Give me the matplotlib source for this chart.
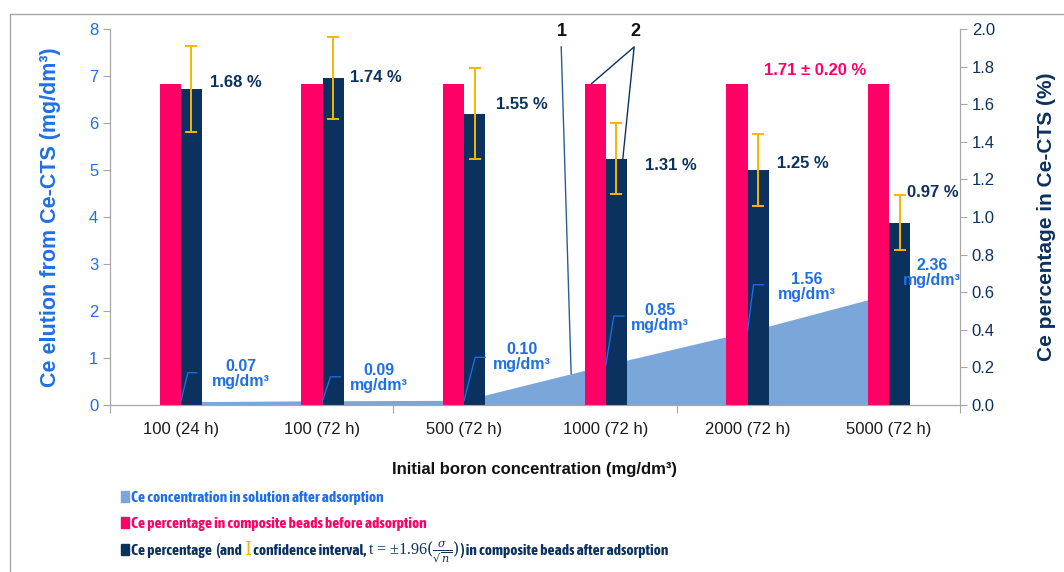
import matplotlib
matplotlib.use('Agg')
import matplotlib.pyplot as plt
from matplotlib import font_manager
from matplotlib.patches import Rectangle

# categories and measured values
categories = ['100 (24 h)', '100 (72 h)', '500 (72 h)', '1000 (72 h)', '2000 (72 h)', '5000 (72 h)']
ce_solution = [0.07, 0.09, 0.10, 0.85, 1.56, 2.36]          # mg/dm3, left axis
ce_before = [1.71, 1.71, 1.71, 1.71, 1.71, 1.71]            # %, right axis
ce_after = [1.68, 1.74, 1.55, 1.31, 1.25, 0.97]             # %, right axis
ce_after_ci = [0.23, 0.22, 0.24, 0.19, 0.19, 0.145]         # % confidence interval

BLUE = '#1F6FE8'
AREA = '#7BA6DA'
PINK = '#FF0066'
NAVY = '#0B325F'
GOLD = '#F7B500'
GREY = '#A6A6A6'

# a bold narrow face for the legend, if one is installed
LEG_FONT, LEG_WEIGHT = 'Liberation Sans', 'bold'
bold_narrow = [f.name for f in font_manager.fontManager.ttflist
               if ('Narrow' in f.name or 'Condensed' in f.name)
               and 'Extra' not in f.name and 'Semi' not in f.name
               and str(f.weight) in ('700', 'bold')]
if bold_narrow:
    LEG_FONT = sorted(bold_narrow)[0]
plt.rcParams['font.family'] = ['Liberation Sans', 'DejaVu Sans']

fig = plt.figure(figsize=(10.64, 5.72), dpi=100)
W, H = 1064, 572
ax = fig.add_axes([110 / W, 1 - 405 / H, 850 / W, 376 / H])
ax2 = ax.twinx()

x = list(range(len(categories)))
bw = 0.15

# area of Ce in solution (left axis), bars on top of it (right axis)
ax.fill_between(x, ce_solution, color=AREA, lw=0)
ax.set_xlim(-0.5, len(categories) - 0.5)
ax.set_ylim(0, 8)
ax2.set_ylim(0, 2)

ax2.bar([i - bw / 2 for i in x], ce_before, width=bw, color=PINK)
ax2.bar([i + bw / 2 for i in x], ce_after, width=bw, color=NAVY)
ax2.errorbar([i + bw / 2 for i in x], ce_after, yerr=ce_after_ci, fmt='none',
             ecolor=GOLD, elinewidth=1.4, capsize=4, capthick=1.4)

# axes styling
for a in (ax, ax2):
    for s in a.spines.values():
        s.set_color(GREY)
    a.spines['top'].set_visible(False)
ax.set_yticks(range(0, 9))
ax.tick_params(axis='y', colors=GREY, labelcolor=BLUE, labelsize=12, length=5)
ax2.set_yticks([i / 5 for i in range(11)])
ax2.set_yticklabels([f'{i / 5:.1f}' for i in range(11)])
ax2.tick_params(axis='y', colors=GREY, labelcolor=NAVY, labelsize=12, length=5)
ax.set_xticks([-0.5, 1.5, 3.5, 5.5])
ax.set_xticklabels([])
ax.set_xticks(x, minor=True)
ax.set_xticklabels(categories, minor=True)
ax.tick_params(axis='x', which='major', colors=GREY, length=6)
ax.tick_params(axis='x', which='minor', length=0, labelsize=12, labelcolor='#1A1A1A', pad=12)

ax.set_ylabel('Ce elution from Ce-CTS (mg/dm³)', color=BLUE, fontsize=15.5,
              fontweight='bold', labelpad=20)
ax2.set_ylabel('Ce percentage in Ce-CTS (%)', color=NAVY, fontsize=15,
               fontweight='bold', labelpad=30)
ax.set_xlabel('Initial boron concentration (mg/dm³)', fontsize=12,
              fontweight='bold', color='#111111', labelpad=18)


def shift(a, xv, yv, dx, dy):
    """data point moved by dx, dy pixels (dy positive downwards)"""
    X, Y = a.transData.transform((xv, yv))
    return a.transData.inverted().transform((X + dx, Y - dy))


# percentage labels next to the navy bars
pct_offsets = [(55, -7), (53, 0), (58, -9), (65, 7), (55, -7), (44, -30)]
for i, (v, (dx, dy)) in enumerate(zip(ce_after, pct_offsets)):
    tx, ty = shift(ax2, i, v, dx, dy)
    ax2.text(tx, ty, f'{v:.2f} %', color=NAVY, fontsize=12, fontweight='bold',
             ha='center', va='center')

tx, ty = shift(ax2, 4 - bw / 2, ce_before[4], 78, -13)
ax2.text(tx, ty, f'{ce_before[4]:.2f} ± 0.20 %', color=PINK, fontsize=12,
         fontweight='bold', ha='center', va='center')

# concentration labels with leader lines
conc_text = [(60, -28), (56, -23), (58, -43), (54, -47), (59, -45), (43, -21)]
conc_leader = [(7, -29, 16), (8, -24, 18), (11, -43, 21), (8, -49, 18), (6, -47, 16), None]
for i, v in enumerate(ce_solution):
    dx, dy = conc_text[i]
    tx, ty = shift(ax, i, v, dx, dy)
    ax2.text(tx, ty, f'{v:.2f}\nmg/dm³', color=BLUE, fontsize=11.5, fontweight='bold',
             ha='center', va='center', linespacing=1.0, transform=ax.transData, zorder=6)
    if conc_leader[i]:
        ex, ey, hx = conc_leader[i]
        p1 = shift(ax, i, v, ex, ey)
        p2 = shift(ax, i, v, hx, ey)
        ax2.plot([i, p1[0], p2[0]], [v, p1[1], p2[1]], color=BLUE, lw=0.9,
                 transform=ax.transData, zorder=6)

# numbered callouts
area_x = 2.755
area_y = ce_solution[2] + (ce_solution[3] - ce_solution[2]) * (area_x - 2)
ax2.text(2.69, 7.94, '1', transform=ax.transData, fontsize=13, fontweight='bold',
         ha='center', va='center', color='#111111')
ax2.plot([2.685, area_x], [7.62, area_y], color='#2A5C9A', lw=1, transform=ax.transData)
ax2.text(3.21, 7.94, '2', transform=ax.transData, fontsize=13, fontweight='bold',
         ha='center', va='center', color='#111111')
ax2.plot([2.90, 3.20, 3.12], [ce_before[3], 7.62 / 4, ce_after[3]], color=NAVY, lw=1)

# legend drawn below the plot
fig.canvas.draw()
renderer = fig.canvas.get_renderer()

# size the legend face so the first row spans about 250 px
probe = fig.text(0, 0, 'Ce concentration in solution after adsorption',
                 family=[LEG_FONT, 'DejaVu Sans'], fontsize=12, fontweight=LEG_WEIGHT)
LEG_SIZE = min(13.0, 12 * 250 / probe.get_window_extent(renderer).width)
probe.remove()


def line_of_text(x0, y0, pieces):
    xp = x0
    for s, kw in pieces:
        t = fig.text(xp / W, 1 - y0 / H, s, va='baseline', ha='left', **kw)
        xp += t.get_window_extent(renderer).width


leg = dict(family=[LEG_FONT, 'DejaVu Sans'], fontsize=LEG_SIZE, fontweight=LEG_WEIGHT)
rows = [
    (502, AREA, [('Ce concentration in solution after adsorption', dict(color=BLUE, **leg))]),
    (528, PINK, [('Ce percentage in composite beads before adsorption', dict(color=PINK, **leg))]),
    (555, NAVY, [('Ce percentage  (and ', dict(color=NAVY, **leg)),
                 ('I', dict(color=GOLD, family='DejaVu Serif', fontsize=LEG_SIZE + 2)),
                 (' confidence interval, ', dict(color=NAVY, **leg)),
                 (r't = ±1.96$(\frac{\sigma}{\sqrt{n}})$', dict(color=NAVY, family='Liberation Serif',
                                                             fontsize=LEG_SIZE + 0.5, math_fontfamily='dejavuserif')),
                 (') in composite beads after adsorption', dict(color=NAVY, **leg))]),
]
for base, c, pieces in rows:
    fig.patches.append(Rectangle((121 / W, 1 - base / H), 8 / W, 11 / H, color=c,
                                 transform=fig.transFigure, figure=fig))
    line_of_text(131, base, pieces)

# outer frame
fig.patches.append(Rectangle((10 / W, -0.1), 1.2, 1 - 14 / H + 0.1, fill=False,
                             edgecolor=GREY, lw=1, transform=fig.transFigure, figure=fig))

fig.savefig('out.png', dpi=100)
